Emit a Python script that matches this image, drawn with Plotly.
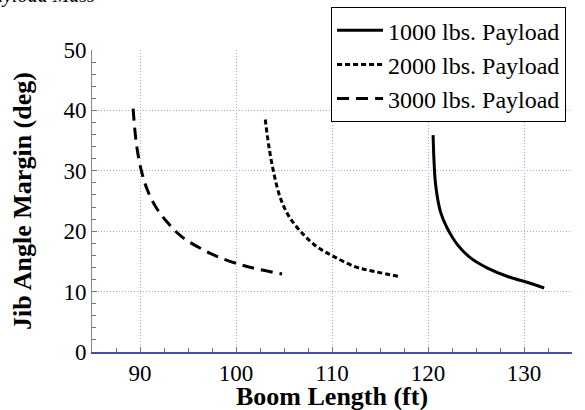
import plotly.graph_objects as go

# boom length (ft) vs jib angle margin (deg)
x_1000 = [120.53, 120.63, 120.8, 121.3, 122.0, 123.1, 124.5, 126.2, 128.3, 130.4, 132.1]
y_1000 = [35.9, 31.5, 27.6, 23.2, 20.5, 17.7, 15.5, 13.9, 12.5, 11.5, 10.6]

x_2000 = [103.05, 103.4, 103.9, 104.6, 105.5, 106.9, 108.45, 110.2, 112.45, 114.5, 117.0]
y_2000 = [38.5, 34.3, 29.9, 25.6, 22.5, 19.65, 17.4, 15.8, 14.1, 13.3, 12.5]

x_3000 = [89.28, 89.64, 90.16, 90.85, 91.73, 92.94, 94.34, 96.43, 98.52, 100.6, 102.35, 104.8]
y_3000 = [40.3, 34.3, 29.9, 26.5, 23.8, 21.3, 19.1, 17.05, 15.5, 14.4, 13.7, 12.9]

series_names = ["1000 lbs. Payload", "2000 lbs. Payload", "3000 lbs. Payload"]

FONT = "Liberation Serif, Times New Roman, serif"

fig = go.Figure()
styles = [("solid", x_1000, y_1000), ("5px,3px", x_2000, y_2000), ("12px,7px", x_3000, y_3000)]
for name, (dash, xs, ys) in zip(series_names, styles):
    fig.add_trace(go.Scatter(
        x=xs, y=ys, mode="lines", name=name,
        line=dict(color="black", width=3, dash=dash, shape="spline", smoothing=1.0),
    ))

axis_common = dict(
    showgrid=True, gridcolor="#a6a6ec", griddash="1px,2px", gridwidth=1,
    ticks="inside", ticklen=5, tickcolor="#777777",
    tickfont=dict(family=FONT, size=23, color="black"),
    zeroline=False, showline=True, automargin=False,
)

fig.update_xaxes(
    range=[85, 135], dtick=10, tick0=90,
    minor=dict(dtick=2.5, ticks="inside", ticklen=4, tickcolor="#777777", showgrid=False),
    linecolor="#4a4ab0", linewidth=1.5,
    **axis_common,
)
fig.update_yaxes(
    range=[0, 50], dtick=10,
    minor=dict(dtick=2, ticks="inside", ticklen=4, tickcolor="#777777", showgrid=False),
    linecolor="#888888", linewidth=1,
    **axis_common,
)

# axis titles as annotations so they sit where the original has them
fig.add_annotation(
    text="<b>Boom Length (ft)</b>", xref="paper", yref="paper",
    x=0.5, y=-0.148, xanchor="center", yanchor="middle",
    showarrow=False, font=dict(family=FONT, size=26, color="black"),
)
fig.add_annotation(
    text="<b>Jib Angle Margin (deg)</b>", xref="paper", yref="paper",
    x=-0.146, y=0.5, xanchor="center", yanchor="middle", textangle=-90,
    showarrow=False, font=dict(family=FONT, size=26, color="black"),
)

# figure title sits mostly above the top edge in the original
fig.add_annotation(
    text="<i>Payload Mass</i>", xref="paper", yref="paper",
    x=-0.2375, y=1.135, xanchor="left", yanchor="bottom",
    showarrow=False, font=dict(family=FONT, size=20, color="black"),
)

fig.update_layout(
    width=585, height=410,
    margin=dict(l=92, r=13, t=50, b=58, autoexpand=False),
    paper_bgcolor="white", plot_bgcolor="white",
    font=dict(family=FONT, color="black"),
    legend=dict(
        x=0.498, y=1.142, xanchor="left", yanchor="top",
        bgcolor="white", bordercolor="black", borderwidth=1,
        font=dict(family=FONT, size=24, color="black"),
        tracegroupgap=0, itemwidth=46,
    ),
    showlegend=True,
)

# page body margin would shift the figure by 8px
fig.write_html("out.html", config={"displayModeBar": False},
               post_script="document.body.style.margin='0';")
